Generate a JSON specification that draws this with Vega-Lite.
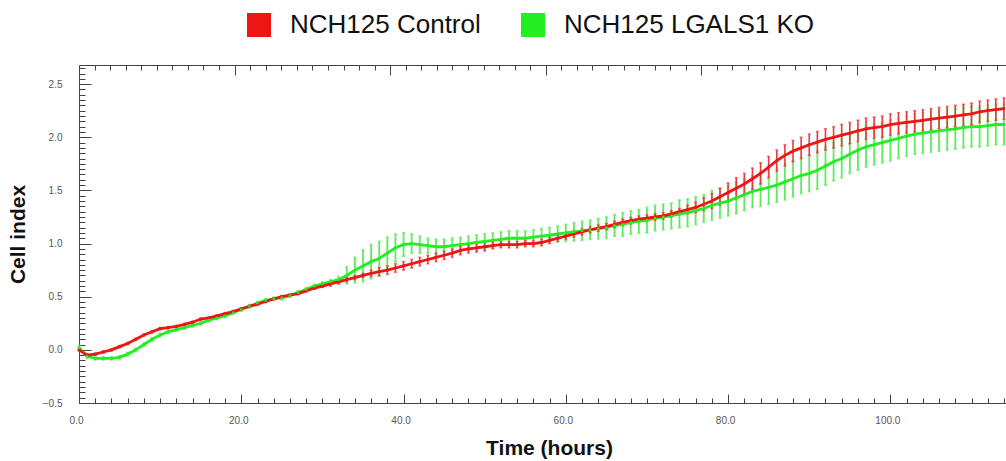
{
  "$schema": "https://vega.github.io/schema/vega-lite/v6.json",
  "width": 927,
  "height": 338,
  "autosize": "none",
  "padding": {"left": 79, "top": 65, "right": 0, "bottom": 58},
  "background": "white",
  "config": {
    "font": "Liberation Sans",
    "view": {"stroke": null},
    "axis": {"grid": false, "domainColor": "#444", "tickColor": "#444", "labelColor": "#555", "labelFontSize": 10, "titleColor": "#111"}
  },
  "data": {"values": [
    {"t":0,"c":0.00,"cs":0.01,"k":0.02,"ks":0.02},
    {"t":1,"c":-0.05,"cs":0.01,"k":-0.06,"ks":0.02},
    {"t":2,"c":-0.04,"cs":0.01,"k":-0.08,"ks":0.015},
    {"t":3,"c":-0.02,"cs":0.01,"k":-0.08,"ks":0.015},
    {"t":4,"c":0.00,"cs":0.01,"k":-0.08,"ks":0.015},
    {"t":5,"c":0.03,"cs":0.01,"k":-0.07,"ks":0.015},
    {"t":6,"c":0.06,"cs":0.01,"k":-0.04,"ks":0.015},
    {"t":7,"c":0.10,"cs":0.01,"k":0.00,"ks":0.015},
    {"t":8,"c":0.14,"cs":0.01,"k":0.05,"ks":0.015},
    {"t":9,"c":0.17,"cs":0.01,"k":0.10,"ks":0.015},
    {"t":10,"c":0.20,"cs":0.01,"k":0.14,"ks":0.015},
    {"t":11,"c":0.21,"cs":0.01,"k":0.17,"ks":0.015},
    {"t":12,"c":0.22,"cs":0.01,"k":0.19,"ks":0.015},
    {"t":13,"c":0.24,"cs":0.01,"k":0.21,"ks":0.015},
    {"t":14,"c":0.26,"cs":0.01,"k":0.23,"ks":0.015},
    {"t":15,"c":0.29,"cs":0.01,"k":0.25,"ks":0.015},
    {"t":16,"c":0.30,"cs":0.01,"k":0.28,"ks":0.015},
    {"t":17,"c":0.32,"cs":0.01,"k":0.30,"ks":0.015},
    {"t":18,"c":0.34,"cs":0.01,"k":0.32,"ks":0.015},
    {"t":19,"c":0.36,"cs":0.01,"k":0.35,"ks":0.015},
    {"t":20,"c":0.385,"cs":0.01,"k":0.38,"ks":0.015},
    {"t":21,"c":0.41,"cs":0.01,"k":0.41,"ks":0.015},
    {"t":22,"c":0.43,"cs":0.01,"k":0.44,"ks":0.015},
    {"t":23,"c":0.455,"cs":0.01,"k":0.465,"ks":0.015},
    {"t":24,"c":0.48,"cs":0.01,"k":0.48,"ks":0.015},
    {"t":25,"c":0.50,"cs":0.01,"k":0.49,"ks":0.02},
    {"t":26,"c":0.515,"cs":0.01,"k":0.51,"ks":0.015},
    {"t":27,"c":0.53,"cs":0.01,"k":0.54,"ks":0.015},
    {"t":28,"c":0.555,"cs":0.01,"k":0.57,"ks":0.015},
    {"t":29,"c":0.58,"cs":0.01,"k":0.60,"ks":0.015},
    {"t":30,"c":0.60,"cs":0.012,"k":0.62,"ks":0.02},
    {"t":31,"c":0.62,"cs":0.02,"k":0.64,"ks":0.02},
    {"t":32,"c":0.64,"cs":0.02,"k":0.66,"ks":0.03},
    {"t":33,"c":0.66,"cs":0.02,"k":0.70,"ks":0.08},
    {"t":34,"c":0.68,"cs":0.02,"k":0.75,"ks":0.12},
    {"t":35,"c":0.70,"cs":0.02,"k":0.79,"ks":0.15},
    {"t":36,"c":0.72,"cs":0.03,"k":0.83,"ks":0.16},
    {"t":37,"c":0.735,"cs":0.04,"k":0.86,"ks":0.16},
    {"t":38,"c":0.75,"cs":0.04,"k":0.91,"ks":0.15},
    {"t":39,"c":0.77,"cs":0.04,"k":0.96,"ks":0.13},
    {"t":40,"c":0.79,"cs":0.04,"k":0.99,"ks":0.11},
    {"t":41,"c":0.81,"cs":0.04,"k":1.00,"ks":0.09},
    {"t":42,"c":0.83,"cs":0.04,"k":0.99,"ks":0.08},
    {"t":43,"c":0.85,"cs":0.04,"k":0.98,"ks":0.07},
    {"t":44,"c":0.87,"cs":0.04,"k":0.97,"ks":0.07},
    {"t":45,"c":0.89,"cs":0.04,"k":0.97,"ks":0.07},
    {"t":46,"c":0.91,"cs":0.04,"k":0.98,"ks":0.07},
    {"t":47,"c":0.935,"cs":0.04,"k":0.99,"ks":0.07},
    {"t":48,"c":0.95,"cs":0.04,"k":1.00,"ks":0.07},
    {"t":49,"c":0.96,"cs":0.04,"k":1.01,"ks":0.07},
    {"t":50,"c":0.97,"cs":0.04,"k":1.02,"ks":0.07},
    {"t":51,"c":0.98,"cs":0.03,"k":1.03,"ks":0.07},
    {"t":52,"c":0.99,"cs":0.03,"k":1.04,"ks":0.07},
    {"t":53,"c":0.99,"cs":0.03,"k":1.05,"ks":0.07},
    {"t":54,"c":0.99,"cs":0.03,"k":1.05,"ks":0.07},
    {"t":55,"c":1.00,"cs":0.03,"k":1.05,"ks":0.07},
    {"t":56,"c":1.00,"cs":0.03,"k":1.06,"ks":0.07},
    {"t":57,"c":1.01,"cs":0.03,"k":1.07,"ks":0.07},
    {"t":58,"c":1.03,"cs":0.03,"k":1.08,"ks":0.07},
    {"t":59,"c":1.05,"cs":0.03,"k":1.09,"ks":0.075},
    {"t":60,"c":1.07,"cs":0.03,"k":1.10,"ks":0.08},
    {"t":61,"c":1.09,"cs":0.03,"k":1.11,"ks":0.085},
    {"t":62,"c":1.11,"cs":0.03,"k":1.12,"ks":0.09},
    {"t":63,"c":1.13,"cs":0.03,"k":1.13,"ks":0.09},
    {"t":64,"c":1.145,"cs":0.03,"k":1.14,"ks":0.095},
    {"t":65,"c":1.16,"cs":0.03,"k":1.15,"ks":0.10},
    {"t":66,"c":1.18,"cs":0.03,"k":1.17,"ks":0.10},
    {"t":67,"c":1.20,"cs":0.03,"k":1.18,"ks":0.11},
    {"t":68,"c":1.215,"cs":0.03,"k":1.20,"ks":0.11},
    {"t":69,"c":1.23,"cs":0.03,"k":1.21,"ks":0.11},
    {"t":70,"c":1.24,"cs":0.03,"k":1.22,"ks":0.12},
    {"t":71,"c":1.25,"cs":0.03,"k":1.24,"ks":0.12},
    {"t":72,"c":1.26,"cs":0.03,"k":1.25,"ks":0.12},
    {"t":73,"c":1.28,"cs":0.03,"k":1.26,"ks":0.12},
    {"t":74,"c":1.30,"cs":0.03,"k":1.28,"ks":0.13},
    {"t":75,"c":1.32,"cs":0.04,"k":1.29,"ks":0.13},
    {"t":76,"c":1.34,"cs":0.05,"k":1.31,"ks":0.13},
    {"t":77,"c":1.37,"cs":0.06,"k":1.33,"ks":0.13},
    {"t":78,"c":1.40,"cs":0.07,"k":1.36,"ks":0.14},
    {"t":79,"c":1.44,"cs":0.08,"k":1.38,"ks":0.14},
    {"t":80,"c":1.48,"cs":0.09,"k":1.40,"ks":0.14},
    {"t":81,"c":1.52,"cs":0.10,"k":1.43,"ks":0.15},
    {"t":82,"c":1.56,"cs":0.10,"k":1.46,"ks":0.15},
    {"t":83,"c":1.61,"cs":0.10,"k":1.49,"ks":0.15},
    {"t":84,"c":1.66,"cs":0.10,"k":1.51,"ks":0.16},
    {"t":85,"c":1.72,"cs":0.10,"k":1.53,"ks":0.16},
    {"t":86,"c":1.78,"cs":0.10,"k":1.55,"ks":0.16},
    {"t":87,"c":1.83,"cs":0.10,"k":1.58,"ks":0.17},
    {"t":88,"c":1.87,"cs":0.10,"k":1.61,"ks":0.17},
    {"t":89,"c":1.90,"cs":0.10,"k":1.64,"ks":0.17},
    {"t":90,"c":1.93,"cs":0.10,"k":1.66,"ks":0.17},
    {"t":91,"c":1.955,"cs":0.10,"k":1.69,"ks":0.18},
    {"t":92,"c":1.98,"cs":0.10,"k":1.73,"ks":0.18},
    {"t":93,"c":2.00,"cs":0.10,"k":1.77,"ks":0.18},
    {"t":94,"c":2.02,"cs":0.10,"k":1.80,"ks":0.18},
    {"t":95,"c":2.04,"cs":0.10,"k":1.84,"ks":0.18},
    {"t":96,"c":2.06,"cs":0.10,"k":1.88,"ks":0.19},
    {"t":97,"c":2.08,"cs":0.10,"k":1.91,"ks":0.19},
    {"t":98,"c":2.09,"cs":0.10,"k":1.93,"ks":0.19},
    {"t":99,"c":2.10,"cs":0.10,"k":1.95,"ks":0.19},
    {"t":100,"c":2.12,"cs":0.10,"k":1.97,"ks":0.19},
    {"t":101,"c":2.13,"cs":0.10,"k":1.99,"ks":0.19},
    {"t":102,"c":2.14,"cs":0.10,"k":2.01,"ks":0.19},
    {"t":103,"c":2.15,"cs":0.10,"k":2.03,"ks":0.19},
    {"t":104,"c":2.16,"cs":0.10,"k":2.04,"ks":0.19},
    {"t":105,"c":2.17,"cs":0.10,"k":2.05,"ks":0.19},
    {"t":106,"c":2.18,"cs":0.10,"k":2.06,"ks":0.19},
    {"t":107,"c":2.19,"cs":0.10,"k":2.07,"ks":0.19},
    {"t":108,"c":2.20,"cs":0.10,"k":2.08,"ks":0.19},
    {"t":109,"c":2.21,"cs":0.10,"k":2.09,"ks":0.19},
    {"t":110,"c":2.22,"cs":0.10,"k":2.10,"ks":0.19},
    {"t":111,"c":2.24,"cs":0.10,"k":2.10,"ks":0.19},
    {"t":112,"c":2.25,"cs":0.10,"k":2.11,"ks":0.19},
    {"t":113,"c":2.26,"cs":0.10,"k":2.12,"ks":0.19},
    {"t":114,"c":2.27,"cs":0.10,"k":2.12,"ks":0.19}
  ]},
  "layer": [
    {
      "mark": {"type": "point", "opacity": 0},
      "encoding": {
        "x": {"field": "t", "type": "quantitative", "scale": {"domain": [0, 114.25], "nice": false, "zero": false},
              "axis": {"orient": "bottom", "values": [0, 20, 40, 60, 80, 100], "format": ".1f", "ticks": false, "domain": true, "labelPadding": 12, "labelOffset": -3, "labelFlush": false, "labelFontSize": 10,
                       "title": "Time (hours)", "titleFontSize": 21, "titleFontWeight": "bold", "titlePadding": 12, "titleX": 470}},
        "y": {"field": "c", "type": "quantitative", "scale": {"domain": [-0.5, 2.68], "nice": false, "zero": false},
              "axis": {"orient": "left", "values": [-0.5, 0, 0.5, 1, 1.5, 2, 2.5], "format": ".1f", "ticks": false, "domain": true, "labelPadding": 17, "labelFlush": false,
                       "title": "Cell index", "titleFontSize": 21, "titleFontWeight": "bold", "titlePadding": 14}}
      }
    },
    {
      "mark": {"type": "point", "opacity": 0},
      "encoding": {
        "x": {"field": "t", "type": "quantitative", "axis": {"orient": "bottom", "values": [0, 20, 40, 60, 80, 100], "labels": false, "domain": false, "tickSize": -9, "title": null}},
        "y": {"field": "c", "type": "quantitative", "axis": {"orient": "left", "values": [-0.5, 0, 0.5, 1, 1.5, 2, 2.5], "labels": false, "domain": false, "tickSize": -12, "title": null}}
      }
    },
    {
      "mark": {"type": "point", "opacity": 0},
      "encoding": {
        "x": {"field": "t", "type": "quantitative", "axis": {"orient": "bottom", "values": [2,4,6,8,10,12,14,16,18,22,24,26,28,30,32,34,36,38,42,44,46,48,50,52,54,56,58,62,64,66,68,70,72,74,76,78,82,84,86,88,90,92,94,96,98,102,104,106,108,110,112,114], "labels": false, "domain": false, "tickSize": -5, "title": null}},
        "y": {"field": "c", "type": "quantitative", "axis": {"orient": "left", "values": [-0.45,-0.4,-0.35,-0.3,-0.25,-0.2,-0.15,-0.1,-0.05,0.05,0.1,0.15,0.2,0.25,0.3,0.35,0.4,0.45,0.55,0.6,0.65,0.7,0.75,0.8,0.85,0.9,0.95,1.05,1.1,1.15,1.2,1.25,1.3,1.35,1.4,1.45,1.55,1.6,1.65,1.7,1.75,1.8,1.85,1.9,1.95,2.05,2.1,2.15,2.2,2.25,2.3,2.35,2.4,2.45,2.55,2.6,2.65], "labels": false, "domain": false, "tickSize": -6, "title": null}}
      }
    },
    {
      "mark": {"type": "point", "opacity": 0},
      "encoding": {
        "x": {"field": "t", "type": "quantitative", "axis": {"orient": "top", "values": [0, 19.175, 38.35, 57.525, 76.7, 95.875], "labels": false, "domain": true, "tickSize": -10, "title": null}},
        "y": {"field": "c", "type": "quantitative", "axis": null}
      }
    },
    {
      "mark": {"type": "point", "opacity": 0},
      "encoding": {
        "x": {"field": "t", "type": "quantitative", "axis": {"orient": "top", "values": [1.92,3.84,5.75,7.67,9.59,11.51,13.42,15.34,17.26,21.09,23.01,24.93,26.85,28.76,30.68,32.6,34.52,36.43,40.27,42.19,44.1,46.02,47.94,49.86,51.77,53.69,55.61,59.44,61.36,63.28,65.2,67.11,69.03,70.95,72.87,74.78,78.62,80.54,82.45,84.37,86.29,88.21,90.12,92.04,93.96,97.79,99.71,101.63,103.55,105.46,107.38,109.3,111.22,113.13], "labels": false, "domain": false, "tickSize": -5, "title": null}},
        "y": {"field": "c", "type": "quantitative", "axis": null}
      }
    },
    {
      "mark": {"type": "errorbar", "color": "#5ced5c", "thickness": 1.8, "ticks": {"size": 3}},
      "encoding": {
        "x": {"field": "t", "type": "quantitative", "axis": null},
        "y": {"field": "k", "type": "quantitative", "axis": null},
        "yError": {"field": "ks"}
      }
    },
    {
      "mark": {"type": "errorbar", "color": "#ec3a3a", "thickness": 1.6, "ticks": {"size": 3}},
      "encoding": {
        "x": {"field": "t", "type": "quantitative", "axis": null},
        "y": {"field": "c", "type": "quantitative", "axis": null},
        "yError": {"field": "cs"}
      }
    },
    {
      "mark": {"type": "line", "color": "#22ee22", "strokeWidth": 2.8},
      "encoding": {
        "x": {"field": "t", "type": "quantitative", "axis": null},
        "y": {"field": "k", "type": "quantitative", "axis": null}
      }
    },
    {
      "mark": {"type": "line", "color": "#ee1515", "strokeWidth": 2.8},
      "encoding": {
        "x": {"field": "t", "type": "quantitative", "axis": null},
        "y": {"field": "c", "type": "quantitative", "axis": null}
      }
    },
    {
      "mark": {"type": "square", "size": 6, "opacity": 1},
      "encoding": {
        "x": {"field": "t", "type": "quantitative", "axis": null},
        "y": {"field": "c", "type": "quantitative", "axis": null},
        "color": {"datum": "NCH125 Control", "type": "nominal",
                  "scale": {"domain": ["NCH125 Control", "NCH125 LGALS1 KO"], "range": ["#ee1515", "#22ee22"]},
                  "legend": {"orient": "none", "legendX": 167, "legendY": -53, "direction": "horizontal", "title": null,
                             "symbolType": "square", "symbolSize": 576, "symbolOpacity": 0.8, "symbolStrokeWidth": 0,
                             "labelFontSize": 26, "labelColor": "#111", "labelOffset": 18, "columnPadding": 39, "labelLimit": 400}}
      }
    },
    {
      "mark": {"type": "square", "size": 6, "opacity": 1},
      "encoding": {
        "x": {"field": "t", "type": "quantitative", "axis": null},
        "y": {"field": "k", "type": "quantitative", "axis": null},
        "color": {"datum": "NCH125 LGALS1 KO", "type": "nominal"}
      }
    }
  ],
  "resolve": {"axis": {"x": "independent", "y": "independent"}}
}
